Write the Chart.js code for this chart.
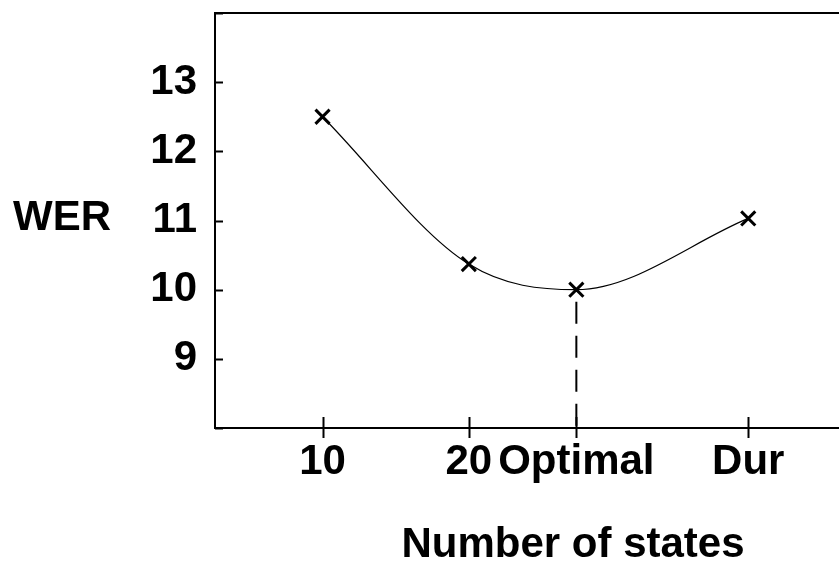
<!DOCTYPE html>
<html>
<head>
<meta charset="utf-8">
<script src="https://cdn.jsdelivr.net/npm/chart.js@4.4.0/dist/chart.umd.min.js"></script>
<style>
html, body { margin: 0; padding: 0; background: #fff; overflow: hidden; }
#wrap { width: 860px; height: 565px; }
</style>
</head>
<body>
<div id="wrap"><canvas id="wer" width="860" height="565"></canvas></div>
<script>
// data
const categories = ['10', '20', 'Optimal', 'Dur'];
const xPos = [10, 20, 27.35, 39.1];
const wer = [12.5, 10.37, 10.0, 11.03];
const yLabels = [9, 10, 11, 12, 13];
const optimalIdx = 2;

const FONT = "'Liberation Sans', Arial, sans-serif";

// frame, inward ticks on y, crossing ticks on x, and the two titles
const decor = {
    id: 'decor',
    afterDraw(chart) {
        const ctx = chart.ctx;
        const a = chart.chartArea;
        const xs = chart.scales.x;
        const ys = chart.scales.y;
        ctx.save();
        ctx.strokeStyle = '#000';
        ctx.lineWidth = 2;
        ctx.strokeRect(a.left, a.top, a.right - a.left, a.bottom - a.top);

        ctx.lineWidth = 2;
        ys.ticks.forEach(t => {
            const y = Math.round(ys.getPixelForValue(t.value)) + 0.5;
            const len = Number.isInteger(t.value) ? 8 : 4;
            ctx.beginPath();
            ctx.moveTo(a.left, y);
            ctx.lineTo(a.left + len, y);
            ctx.stroke();
        });
        xs.ticks.forEach(t => {
            const x = Math.round(xs.getPixelForValue(t.value)) + 0.5;
            ctx.beginPath();
            ctx.moveTo(x, a.bottom - 11);
            ctx.lineTo(x, a.bottom + 10);
            ctx.stroke();
        });

        ctx.fillStyle = '#000';
        ctx.font = 'bold 42px ' + FONT;
        ctx.textAlign = 'center';
        ctx.textBaseline = 'alphabetic';
        ctx.fillText('WER', 62, 230);
        ctx.fillText('Number of states', 573, 557);
        ctx.restore();
    }
};

new Chart(document.getElementById('wer'), {
    type: 'scatter',
    data: {
        datasets: [{
            data: xPos.map((x, i) => ({x: x, y: wer[i]})),
            showLine: true,
            cubicInterpolationMode: 'monotone',
            borderColor: '#000',
            borderWidth: 1.2,
            pointStyle: 'crossRot',
            pointRadius: 10,
            pointBorderWidth: 3,
            pointBorderColor: '#000',
            pointHoverRadius: 10
        }, {
            data: [{x: xPos[optimalIdx], y: wer[optimalIdx]}, {x: xPos[optimalIdx], y: 8}],
            showLine: true,
            borderColor: '#000',
            borderWidth: 2,
            borderDash: [22, 12],
            borderDashOffset: 22,
            pointRadius: 0
        }]
    },
    options: {
        responsive: false,
        animation: false,
        events: [],
        layout: { padding: { top: 10, right: 10, left: 0, bottom: 0 } },
        plugins: { legend: { display: false }, tooltip: { enabled: false } },
        scales: {
            x: {
                type: 'linear',
                min: 2.65,
                max: 45.85,
                afterFit: s => { s.height = 137; s.paddingLeft = 0; s.paddingRight = 0; },
                afterBuildTicks: s => { s.ticks = xPos.map(v => ({value: v})); },
                grid: { display: false, drawTicks: false },
                border: { display: false },
                ticks: {
                    autoSkip: false,
                    maxRotation: 0,
                    padding: 9,
                    color: '#000',
                    font: { family: FONT, size: 42, weight: 'bold' },
                    callback: (v, i) => categories[i]
                }
            },
            y: {
                min: 8,
                max: 14,
                afterFit: s => { s.width = 215; s.paddingTop = 0; s.paddingBottom = 0; },
                grid: { display: false, drawTicks: false },
                border: { display: false },
                ticks: {
                    stepSize: 0.5,
                    padding: 18,
                    color: '#000',
                    font: { family: FONT, size: 42, weight: 'bold' },
                    callback: v => yLabels.includes(v) ? String(v) : ''
                }
            }
        }
    },
    plugins: [decor]
});
</script>
</body>
</html>
